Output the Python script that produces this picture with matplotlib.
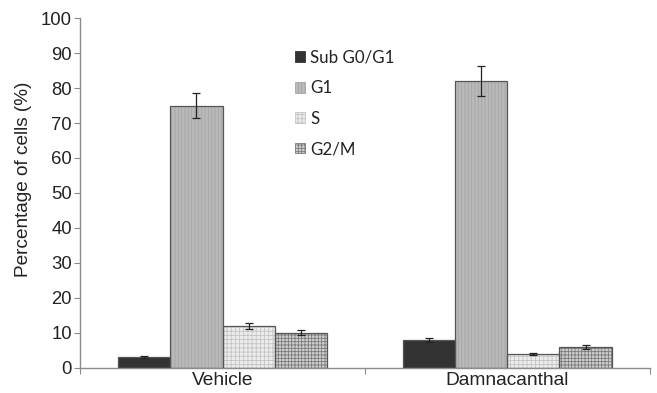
import matplotlib
matplotlib.use("Agg")
import matplotlib.pyplot as plt
import numpy as np
from matplotlib.patches import Patch

groups = ["Vehicle", "Damnacanthal"]
phases = ["Sub G0/G1", "G1", "S", "G2/M"]
values = {
    "Sub G0/G1": [3.0, 8.0],
    "G1": [75.0, 82.0],
    "S": [12.0, 4.0],
    "G2/M": [10.0, 6.0],
}
errors = {
    "Sub G0/G1": [0.3, 0.5],
    "G1": [3.7, 4.2],
    "S": [0.8, 0.3],
    "G2/M": [0.7, 0.5],
}
y_ticks = list(range(0, 101, 10))

# fill, hatch colour, hatch pattern per phase
styles = {
    "Sub G0/G1": ("#333333", "#333333", None),
    "G1": ("#b9b9b9", "#a4a4a4", "|||||"),
    "S": ("#ececec", "#c4c4c4", "++++"),
    "G2/M": ("#cfcfcf", "#7a7a7a", "+++++"),
}

plt.rcParams["hatch.linewidth"] = 0.6
plt.rcParams["font.family"] = ["Liberation Sans", "DejaVu Sans"]

fig = plt.figure(figsize=(6.57, 3.93), dpi=100)
ax = fig.add_axes([0.122, 0.064, 0.867, 0.89])

axis_col = "#8c8c8c"
width = 0.183
x = np.arange(len(groups))
offsets = (np.arange(len(phases)) - 1.5) * width

for i, ph in enumerate(phases):
    fc, hc, hatch = styles[ph]
    pos = x + offsets[i]
    ax.bar(pos, values[ph], width, color=fc, edgecolor=hc, hatch=hatch,
           linewidth=0, zorder=2)
    ax.bar(pos, values[ph], width, fill=False, edgecolor="#555555",
           linewidth=0.9, zorder=3)
    ax.errorbar(pos, values[ph], yerr=errors[ph], fmt="none", ecolor="#222222",
                elinewidth=0.9, capsize=3, capthick=0.9, zorder=4)

ax.set_xlim(-0.5, 1.5)
ax.set_ylim(0, 100)
ax.set_yticks(y_ticks)
ax.set_xticks([-0.5, 0.5, 1.5])
ax.set_xticklabels([])
ax.set_xticks(x, minor=True)
ax.set_xticklabels(groups, minor=True)
ax.tick_params(axis="x", which="minor", length=0, labelsize=13.8, pad=3,
               labelcolor="#222222")
ax.tick_params(axis="x", which="major", length=4, color=axis_col)
ax.tick_params(axis="y", length=4, color=axis_col, labelsize=13.3,
               labelcolor="#222222", pad=2)

for side in ["top", "right"]:
    ax.spines[side].set_visible(False)
for side in ["left", "bottom"]:
    ax.spines[side].set_color(axis_col)
    ax.spines[side].set_linewidth(1.0)

ax.set_ylabel("Percentage of cells (%)", fontsize=13.7, color="#222222")
ax.yaxis.set_label_coords(-0.084, 0.54)

handles = []
for ph in phases:
    fc, hc, hatch = styles[ph]
    handles.append(Patch(facecolor=fc, edgecolor=hc, hatch=hatch, linewidth=0.6))
leg = fig.legend(handles, phases, loc="upper left", bbox_to_anchor=(0.426, 0.912),
                 frameon=False, handlelength=0.6, handleheight=0.6,
                 handletextpad=0.3, labelspacing=0.85,
                 prop={"family": "Lato", "size": 12.2})
for t in leg.get_texts():
    t.set_color("#222222")

fig.savefig("out.png", dpi=100)
